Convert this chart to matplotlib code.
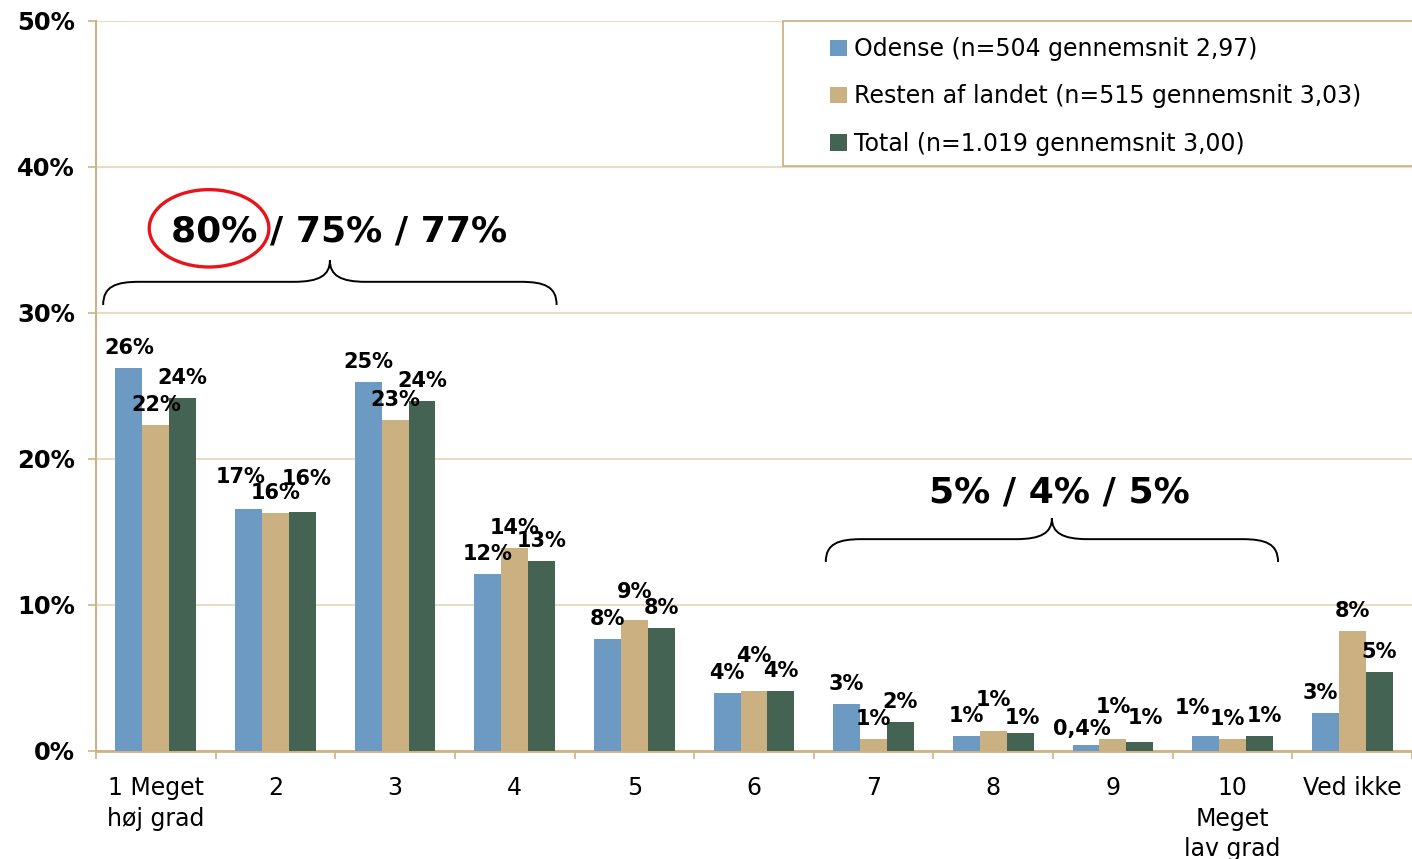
import matplotlib
matplotlib.use("Agg")
import matplotlib.pyplot as plt
import numpy as np
from matplotlib.patches import Ellipse, Rectangle, PathPatch
from matplotlib.path import Path

# data (percent)
categories = ["1 Meget\nhøj grad", "2", "3", "4", "5", "6", "7", "8", "9",
              "10\nMeget\nlav grad", "Ved ikke"]
odense = [26.2, 16.6, 25.3, 12.1, 7.7, 4.0, 3.2, 1.0, 0.4, 1.0, 2.6]
resten = [22.3, 16.3, 22.7, 13.9, 9.0, 4.1, 0.8, 1.4, 0.8, 0.8, 8.2]
total = [24.2, 16.4, 24.0, 13.0, 8.4, 4.1, 2.0, 1.2, 0.6, 1.0, 5.4]
series_names = ["Odense (n=504 gennemsnit 2,97)",
                "Resten af landet (n=515 gennemsnit 3,03)",
                "Total (n=1.019 gennemsnit 3,00)"]
summary_top = "80% / 75% / 77%"
summary_low = "5% / 4% / 5%"

colors = ["#6C9AC3", "#CBB182", "#456352"]
tan = "#CDB487"
grid_col = "#E8DCC4"

# extra label shifts in pixels (dx, dy) where Excel moved labels apart
label_shift = {
    (1, 0): (-8, 12), (1, 2): (4, 13),
    (4, 1): (0, 8),
    (5, 1): (0, 15),
    (7, 1): (0, 11), (7, 2): (2, -5),
    (8, 0): (-4, -4), (8, 1): (0, 12), (8, 2): (6, 4),
    (9, 0): (-13, 8), (9, 1): (-5, 0), (9, 2): (5, 0),
    (10, 0): (-5, 0),
}

def fmt(v):
    if v < 0.5:
        return f"{v:.1f}".replace(".", ",") + "%"
    return f"{int(round(v))}%"

def brace(ax, x0, x1, y0, y1, rx=0.3):
    # curly brace opening downward, ends at y0, tip at y1
    xm = (x0 + x1) / 2
    yf = y0 + (y1 - y0) * 0.52
    verts = [(x0, y0),
             (x0, y0 + (yf - y0) * 0.8), (x0 + rx * 0.35, yf), (x0 + rx, yf),
             (xm - rx, yf),
             (xm - rx * 0.3, yf), (xm, yf + (y1 - yf) * 0.3), (xm, y1),
             (xm, yf + (y1 - yf) * 0.3), (xm + rx * 0.3, yf), (xm + rx, yf),
             (x1 - rx, yf),
             (x1 - rx * 0.35, yf), (x1, y0 + (yf - y0) * 0.8), (x1, y0)]
    codes = [Path.MOVETO,
             Path.CURVE4, Path.CURVE4, Path.CURVE4,
             Path.LINETO,
             Path.CURVE4, Path.CURVE4, Path.CURVE4,
             Path.CURVE4, Path.CURVE4, Path.CURVE4,
             Path.LINETO,
             Path.CURVE4, Path.CURVE4, Path.CURVE4]
    ax.add_patch(PathPatch(Path(verts, codes), fill=False, lw=1.4,
                           edgecolor="black", clip_on=False))

fig = plt.figure(figsize=(14.12, 8.59), dpi=100)
ax = fig.add_axes([96 / 1412, 108 / 859, 1 - 96 / 1412, 730 / 859])

x = np.arange(len(categories))
w = 0.225
all_series = [odense, resten, total]
for j, vals in enumerate(all_series):
    pos = x + (j - 1) * w
    ax.bar(pos, vals, width=w, color=colors[j], label=series_names[j], zorder=3)
    for i, v in enumerate(vals):
        dx, dy = label_shift.get((i, j), (0, 0))
        ax.annotate(fmt(v), (pos[i], v), xytext=(dx * 0.72, (20 + dy) * 0.72),
                    textcoords="offset points", ha="center", va="center",
                    fontsize=15, fontweight="bold", zorder=5)

ax.set_xlim(-0.495, 10.44)
ax.set_ylim(0, 50)
ax.set_yticks([0, 10, 20, 30, 40, 50])
ax.set_yticklabels([f"{t}%" for t in [0, 10, 20, 30, 40, 50]],
                   fontsize=17.5, fontweight="bold")
ax.set_xticks(x)
ax.set_xticklabels(categories, fontsize=17, linespacing=1.35)
ax.set_xticks(np.arange(-0.5, len(categories), 1), minor=True)
ax.tick_params(axis="x", which="major", length=0, pad=18)
ax.tick_params(axis="x", which="minor", length=6, color=tan, width=1.2)
ax.tick_params(axis="y", length=6, color=tan, width=1.2, pad=9)

ax.grid(axis="y", color=grid_col, lw=1.5, zorder=0)
for s in ["top", "right"]:
    ax.spines[s].set_visible(False)
ax.spines["left"].set_color(tan)
ax.spines["left"].set_linewidth(1.5)
ax.spines["bottom"].set_color(tan)
ax.spines["bottom"].set_linewidth(2)

# legend box
ax.add_patch(Rectangle((783 / 1412, 1 - 166 / 859), 640 / 1412, 145 / 859,
                       transform=fig.transFigure, facecolor="white",
                       edgecolor=tan, lw=1.3, zorder=4, clip_on=False))
leg = ax.legend(loc="upper left", bbox_to_anchor=(809 / 1412, 1 - 16 / 859),
                bbox_transform=fig.transFigure, frameon=False, fontsize=17,
                handlelength=0.7, handleheight=0.7, handletextpad=0.3,
                labelspacing=0.98)
leg.set_zorder(6)

# summaries
brace(ax, -0.44, 3.35, 30.55, 33.6)
brace(ax, 5.6, 9.38, 12.95, 15.95)
ax.text(1.535, 35.6, summary_top, ha="center", va="center", fontsize=26,
        fontweight="bold", zorder=6)
ax.text(7.55, 17.7, summary_low, ha="center", va="center", fontsize=26,
        fontweight="bold", zorder=6)
ax.add_patch(Ellipse((0.445, 35.8), 1.0, 5.3, fill=False, edgecolor="#E8141B",
                     lw=2.4, zorder=7))

plt.savefig("out.png", dpi=100)
